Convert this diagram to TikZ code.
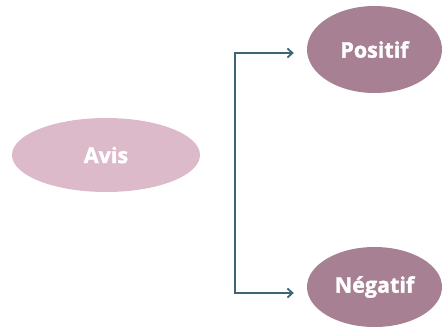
\documentclass[tikz,border=0pt]{standalone}
\usepackage{fontspec}
\setmainfont{Open Sans}[BoldFeatures={FakeBold=1.6}]
\usetikzlibrary{shapes.geometric,arrows.meta}
\definecolor{softpink}{HTML}{DDBACA}
\definecolor{mauve}{HTML}{A88093}
\definecolor{slate}{HTML}{3F6377}
\tikzset{
  bubble/.style={ellipse, inner sep=0pt, text=white,
    font=\fontsize{21.5}{24}\selectfont\bfseries},
  tip/.tip={Straight Barb[length=5pt,width=9pt,line width=1.8pt]},
  link/.style={draw=slate, line width=2.2pt, tip-tip},
}
\begin{document}
\begin{tikzpicture}[x=1pt,y=-1pt]
  \useasboundingbox (0,0) rectangle (444,329);
  \node[bubble, fill=softpink, minimum width=188pt, minimum height=74pt] (avis) at (106,155) {Avis};
  \node[bubble, fill=mauve, minimum width=135pt, minimum height=87pt] (pos) at (374.5,49.5) {Positif};
  \node[bubble, fill=mauve, minimum width=135pt, minimum height=80pt] (neg) at (374.5,287) {\raisebox{-3pt}{Négatif}};
  \coordinate (top) at (235,53);
  \coordinate (bot) at (235,293);
  \draw[link, shorten <=13pt, shorten >=13pt]
    (top -| pos.west) -- (top) -- (bot) -- (bot -| neg.west);
\end{tikzpicture}
\end{document}
